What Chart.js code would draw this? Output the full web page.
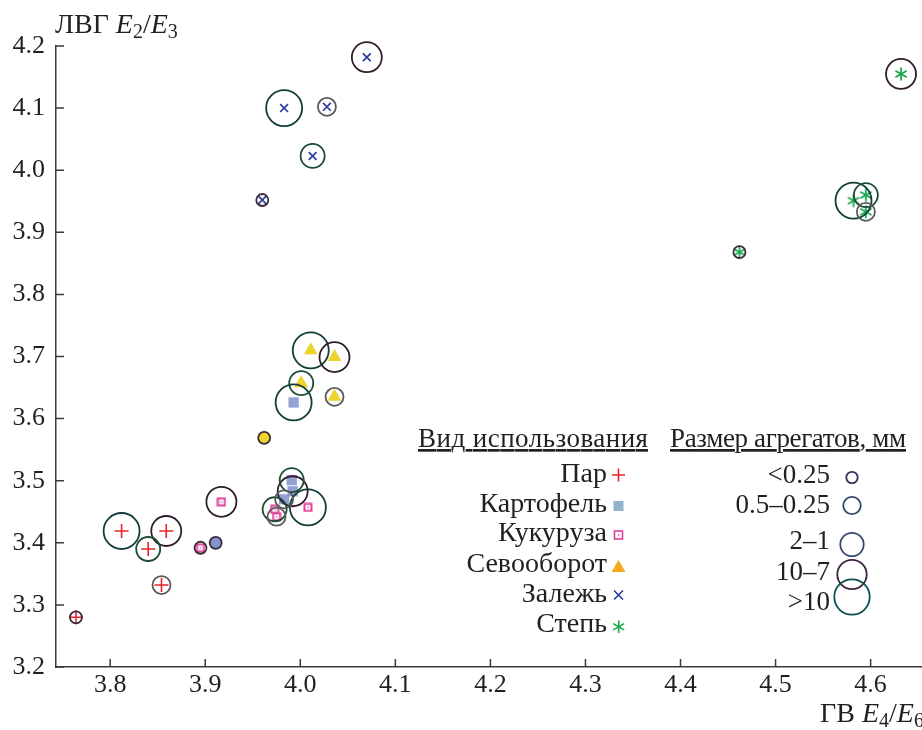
<!DOCTYPE html>
<html>
<head>
<meta charset="utf-8">
<script src="https://cdn.jsdelivr.net/npm/chart.js@4.4.0/dist/chart.umd.min.js"></script>
<style>
  html, body { margin: 0; padding: 0; background: #fff; }
  #wrap { position: relative; width: 922px; height: 730px; overflow: hidden; }
  #chart { position: absolute; left: 0; top: 0; }
  #overlay { position: absolute; left: 0; top: 0; pointer-events: none; }
  #overlay text { font-family: 'Liberation Serif', 'DejaVu Serif', serif; fill: #231f20; }
</style>
</head>
<body>
<div id="wrap">
  <canvas id="chart" width="922" height="730"></canvas>
  <svg id="overlay" width="922" height="730" xmlns="http://www.w3.org/2000/svg">
    <!-- axis titles -->
    <text x="55" y="33" font-size="28">ЛВГ <tspan font-style="italic">E</tspan><tspan font-size="20" dy="5">2</tspan><tspan dy="-5">/</tspan><tspan font-style="italic">E</tspan><tspan font-size="20" dy="5">3</tspan></text>
    <text x="820" y="722" font-size="28">ГВ <tspan font-style="italic">E</tspan><tspan font-size="20" dy="5">4</tspan><tspan dy="-5">/</tspan><tspan font-style="italic">E</tspan><tspan font-size="20" dy="5">6</tspan></text>

    <!-- legend: land use -->
    <text x="418" y="447" font-size="27" text-decoration="underline" textLength="230">Вид использования</text>
    <text x="607" y="482" font-size="28" text-anchor="end">Пар</text>
    <text x="607" y="512" font-size="28" text-anchor="end">Картофель</text>
    <text x="607" y="541" font-size="28" text-anchor="end">Кукуруза</text>
    <text x="607" y="572" font-size="28" text-anchor="end">Севооборот</text>
    <text x="607" y="602" font-size="28" text-anchor="end">Залежь</text>
    <text x="607" y="632" font-size="28" text-anchor="end">Степь</text>

    <g stroke-linecap="butt">
      <path d="M612 475 H625 M618.5 468.5 V481.5" stroke="#e8232b" stroke-width="1.6" fill="none"/>
      <rect x="613.5" y="501" width="10" height="10" fill="#92b4c8"/>
      <rect x="614.5" y="531" width="8" height="8" fill="none" stroke="#e0409a" stroke-width="1.6"/>
      <rect x="618" y="534.3" width="1.4" height="1.4" fill="#e0409a"/>
      <path d="M611.5 572 L625.5 572 L618.5 560 Z" fill="#f5a91e"/>
      <path d="M614 590.5 L623 599.5 M623 590.5 L614 599.5" stroke="#2b3b99" stroke-width="1.6" fill="none"/>
      <path d="M618.7 620.5 V633 M613.3 623.6 L624.1 629.9 M624.1 623.6 L613.3 629.9" stroke="#18a84a" stroke-width="1.6" fill="none"/>
    </g>

    <!-- legend: aggregate size -->
    <text x="670" y="447" font-size="27" text-decoration="underline" textLength="236">Размер агрегатов, мм</text>
    <g id="sizeLegend" fill="none" stroke-width="1.8"></g>
  </svg>
</div>

<script>
// axis ticks
const X_TICKS = [3.8, 3.9, 4.0, 4.1, 4.2, 4.3, 4.4, 4.5, 4.6];
const Y_TICKS = [3.2, 3.3, 3.4, 3.5, 3.6, 3.7, 3.8, 3.9, 4.0, 4.1, 4.2];

// categories (land use) and aggregate size classes
const CATEGORIES = ['Пар', 'Картофель', 'Кукуруза', 'Севооборот', 'Залежь', 'Степь'];
const SIZE_CLASSES = ['<0.25', '0.5–0.25', '2–1', '10–7', '>10'];

// values per category, ordered by size class: <0.25, 0.5-0.25, 2-1, 10-7, >10
const parX        = [3.764, 3.854, 3.840, 3.859, 3.812];
const parY        = [3.280, 3.332, 3.390, 3.419, 3.419];
const kartofelX   = [3.911, 3.983, 3.991, 3.992, 3.993];
const kartofelY   = [3.400, 3.470, 3.501, 3.483, 3.626];
const kukuruzaX   = [3.895, 3.975, 3.973, 3.917, 4.008];
const kukuruzaY   = [3.392, 3.442, 3.454, 3.466, 3.457];
const sevooborotX = [3.962, 4.036, 4.001, 4.036, 4.011];
const sevooborotY = [3.569, 3.635, 3.657, 3.699, 3.710];
const zalezhX     = [3.960, 4.028, 4.013, 4.070, 3.983];
const zalezhY     = [3.952, 4.102, 4.023, 4.182, 4.100];
const stepX       = [4.462, 4.595, 4.595, 4.632, 4.582];
const stepY       = [3.868, 3.933, 3.960, 4.155, 3.951];

const SERIES_X = [parX, kartofelX, kukuruzaX, sevooborotX, zalezhX, stepX];
const SERIES_Y = [parY, kartofelY, kukuruzaY, sevooborotY, zalezhY, stepY];

// ---- styles ----
const FONT = "'Liberation Serif', 'DejaVu Serif', serif";
const TEXT = '#231f20';
const AXIS = '#3a3a3a';

const RADII = [6, 9, 12, 15, 18];
const RING_COLORS = ['#3b2a38', '#5a5a5a', '#1e4c34', '#2f1d2e', '#103f3a'];
const LEGEND_RING_COLORS = ['#2d2f5a', '#33446c', '#3b4874', '#3c2340', '#0e5150'];
// fill of the smallest ring, per category
const SMALL_FILL = ['rgba(0,0,0,0)', '#8393cc', 'rgba(0,0,0,0)', '#ecd42a', 'rgba(0,0,0,0)', 'rgba(0,0,0,0)'];

function pinkSquare() {
  const c = document.createElement('canvas');
  c.width = 10; c.height = 10;
  const g = c.getContext('2d');
  g.strokeStyle = '#e0409a'; g.lineWidth = 2;
  g.strokeRect(1.5, 1.5, 7, 7);
  g.fillStyle = '#e0409a';
  g.fillRect(4.3, 4.3, 1.4, 1.4);
  return c;
}

function asterisk() {
  const c = document.createElement('canvas');
  c.width = 16; c.height = 16;
  const g = c.getContext('2d');
  g.strokeStyle = '#1ba84e'; g.lineWidth = 1.8;
  [90, 30, 150].forEach(a => {
    const r = a * Math.PI / 180;
    g.beginPath();
    g.moveTo(8 + 6.5 * Math.cos(r), 8 - 6.5 * Math.sin(r));
    g.lineTo(8 - 6.5 * Math.cos(r), 8 + 6.5 * Math.sin(r));
    g.stroke();
  });
  return c;
}

const MARKER_STYLE  = ['cross', 'rect', pinkSquare(), 'triangle', 'crossRot', asterisk()];
const MARKER_RADIUS = [7, 7.3, 5, 8, 5.5, 8];
const MARKER_COLOR  = ['#e8232b', 'rgba(128,146,204,0.85)', '#e0409a', '#ecd42a', '#2b3ca0', '#1ba84e'];
const MARKER_WIDTH  = [1.6, 0, 0, 0, 1.7, 0];

// marker datasets (one per land use)
const markerSets = CATEGORIES.map((name, i) => ({
  label: name,
  data: SERIES_X[i].map((x, k) => ({ x, y: SERIES_Y[i][k] })),
  pointStyle: MARKER_STYLE[i],
  pointRadius: MARKER_RADIUS[i],
  borderColor: MARKER_COLOR[i],
  backgroundColor: MARKER_COLOR[i],
  borderWidth: MARKER_WIDTH[i],
  clip: false,
  order: 1
}));

// ring datasets (one per size class)
const ringSets = SIZE_CLASSES.map((name, k) => ({
  label: name,
  data: CATEGORIES.map((c, i) => ({ x: SERIES_X[i][k], y: SERIES_Y[i][k] })),
  pointStyle: 'circle',
  pointRadius: RADII[k],
  borderColor: RING_COLORS[k],
  backgroundColor: k === 0 ? SMALL_FILL : 'rgba(0,0,0,0)',
  borderWidth: 1.8,
  clip: false,
  order: 0
}));

// ticks pointing into the plot area
const innerTicks = {
  id: 'innerTicks',
  afterDraw(chart) {
    const { ctx, chartArea, scales: { x, y } } = chart;
    ctx.save();
    ctx.strokeStyle = AXIS;
    ctx.lineWidth = 1.5;
    ctx.beginPath();
    x.ticks.forEach(t => {
      const px = x.getPixelForValue(t.value);
      ctx.moveTo(px, chartArea.bottom);
      ctx.lineTo(px, chartArea.bottom - 8);
    });
    y.ticks.forEach(t => {
      const py = y.getPixelForValue(t.value);
      ctx.moveTo(chartArea.left, py);
      ctx.lineTo(chartArea.left + 8, py);
    });
    ctx.stroke();
    ctx.restore();
  }
};

new Chart(document.getElementById('chart'), {
  type: 'scatter',
  data: { datasets: [...ringSets, ...markerSets] },
  options: {
    responsive: false,
    animation: false,
    layout: { autoPadding: false, padding: { top: 46, right: 1, left: 0, bottom: 0 } },
    plugins: { legend: { display: false }, tooltip: { enabled: false } },
    scales: {
      x: {
        type: 'linear',
        min: 3.743,
        max: 4.653,
        afterBuildTicks: s => { s.ticks = X_TICKS.map(v => ({ value: v })); },
        afterFit: s => { s.height = 63; s.paddingLeft = 0; s.paddingRight = 0; },
        grid: { drawOnChartArea: false, drawTicks: false },
        border: { display: true, color: AXIS, width: 1.5 },
        ticks: {
          callback: v => v.toFixed(1),
          font: { family: FONT, size: 26 },
          color: TEXT,
          padding: 3,
          maxRotation: 0,
          autoSkip: false
        }
      },
      y: {
        type: 'linear',
        min: 3.2,
        max: 4.2,
        afterBuildTicks: s => { s.ticks = Y_TICKS.map(v => ({ value: v })); },
        afterFit: s => { s.width = 56; s.paddingTop = 0; s.paddingBottom = 0; },
        grid: { drawOnChartArea: false, drawTicks: false },
        border: { display: true, color: AXIS, width: 1.5 },
        ticks: {
          callback: v => v.toFixed(1),
          font: { family: FONT, size: 26 },
          color: TEXT,
          padding: 11,
          autoSkip: false
        }
      }
    }
  },
  plugins: [innerTicks]
});

// size-class legend: labels and rings
const LEGEND_TEXT_Y = [483, 513, 549, 580, 610];
const LEGEND_RING_Y = [477.5, 505.5, 544.5, 574.5, 597];
const NS = 'http://www.w3.org/2000/svg';
const svg = document.getElementById('overlay');
const g = document.getElementById('sizeLegend');
SIZE_CLASSES.forEach((name, k) => {
  const t = document.createElementNS(NS, 'text');
  t.setAttribute('x', 830);
  t.setAttribute('y', LEGEND_TEXT_Y[k]);
  t.setAttribute('font-size', 27);
  t.setAttribute('text-anchor', 'end');
  t.textContent = name;
  svg.appendChild(t);

  const c = document.createElementNS(NS, 'circle');
  c.setAttribute('cx', 852);
  c.setAttribute('cy', LEGEND_RING_Y[k]);
  c.setAttribute('r', RADII[k] - 0.3);
  c.setAttribute('stroke', LEGEND_RING_COLORS[k]);
  g.appendChild(c);
});
</script>
</body>
</html>
